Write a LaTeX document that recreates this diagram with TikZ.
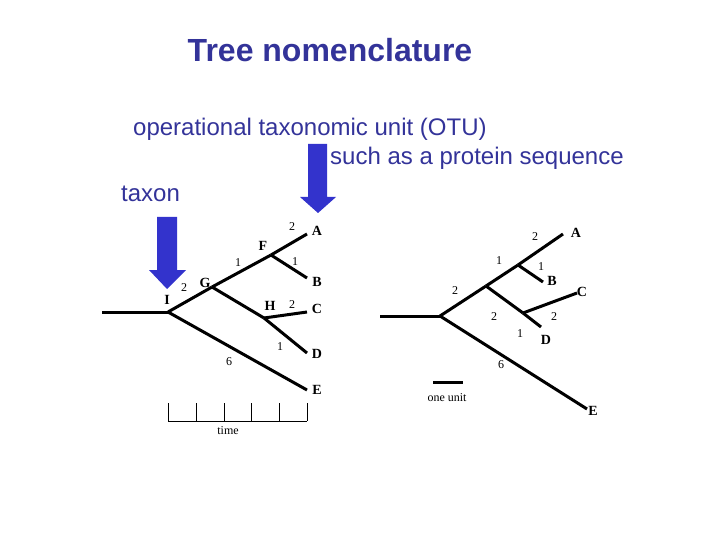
\documentclass[tikz,border=0pt]{standalone}
\usepackage{fontspec}
\setmainfont{Liberation Serif}
\newfontfamily\arialfont{Liberation Sans}
\definecolor{textblue}{RGB}{51,51,153}
\definecolor{arrowblue}{RGB}{51,51,204}
\begin{document}
\begin{tikzpicture}[x=1pt,y=-1pt,
    branch/.style={line width=3pt},
    taxlbl/.style={font=\fontsize{14}{16}\selectfont\bfseries,inner sep=0pt},
    lenlbl/.style={font=\fontsize{12}{14}\selectfont,inner sep=0pt},
    slide/.style={font=\arialfont\fontsize{24}{28}\selectfont,text=textblue,inner sep=0pt}]
        \useasboundingbox (0,0) rectangle (720,540);
        % headings
        \node[slide,font=\arialfont\fontsize{32}{36}\selectfont\bfseries] (title) at (330,50) {Tree nomenclature};
        \node[slide,anchor=west] (otu) at (133,129) {operational taxonomic unit (OTU)};
        \node[slide,anchor=west] (seq) at (330,158) {such as a protein sequence};
        \node[slide,anchor=west] (taxon) at (121,194) {taxon};
        \fill[arrowblue] (157,217) -- (177,217) -- (177,270) -- (186,270) -- (167,289) -- (149,270) -- (157,270) -- cycle;
        \fill[arrowblue] (308,144) -- (327,144) -- (327,197) -- (336,197) -- (318,213) -- (300,197) -- (308,197) -- cycle;
        % left tree
        \coordinate (root) at (102,312);
        \coordinate (I) at (168,312);
        \coordinate (G) at (212,287);
        \coordinate (F) at (271,255);
        \coordinate (H) at (264,318);
        \coordinate (A) at (307,234);
        \coordinate (B) at (307,278);
        \coordinate (C) at (307,312);
        \coordinate (D) at (307,353);
        \coordinate (E) at (307,390);
        \draw[branch] (root) -- (I);
        \draw[branch] (I) -- (G); \draw[branch] (G) -- (F);
        \draw[branch] (F) -- (A); \draw[branch] (F) -- (B);
        \draw[branch] (G) -- (H);
        \draw[branch] (H) -- (C); \draw[branch] (H) -- (D);
        \draw[branch] (I) -- (E);
        \node[taxlbl] (labI) at (167,300) {I};
        \node[taxlbl] (labG) at (205,283) {G};
        \node[taxlbl] (labF) at (263,246) {F};
        \node[taxlbl] (labH) at (270,306) {H};
        \node[taxlbl] (labA) at (317,231) {A};
        \node[taxlbl] (labB) at (317,282) {B};
        \node[taxlbl] (labC) at (317,309) {C};
        \node[taxlbl] (labD) at (317,354) {D};
        \node[taxlbl] (labE) at (317,390) {E};
        \node[lenlbl] (lIG) at (184,288) {2};
        \node[lenlbl] (lGF) at (238,263) {1};
        \node[lenlbl] (lFA) at (292,227) {2};
        \node[lenlbl] (lFB) at (295,262) {1};
        \node[lenlbl] (lHC) at (292,305) {2};
        \node[lenlbl] (lHD) at (280,347) {1};
        \node[lenlbl] (lIE) at (229,362) {6};
        % time axis
        \coordinate (t0) at (168,403); \coordinate (b0) at (168,421);
        \coordinate (t1) at (196,403); \coordinate (b1) at (196,421);
        \coordinate (t2) at (224,403); \coordinate (b2) at (224,421);
        \coordinate (t3) at (251,403); \coordinate (b3) at (251,421);
        \coordinate (t4) at (279,403); \coordinate (b4) at (279,421);
        \coordinate (t5) at (307,403); \coordinate (b5) at (307,421);
        \draw (b0) -- (b5);
        \draw (t0) -- (b0); \draw (t1) -- (b1); \draw (t2) -- (b2);
        \draw (t3) -- (b3); \draw (t4) -- (b4); \draw (t5) -- (b5);
        \node[lenlbl] (time) at (228,431) {time};
        % right tree
        \coordinate (Rroot) at (380,316);
        \coordinate (R0) at (440,316);
        \coordinate (R1) at (486,286);
        \coordinate (R2) at (518,265);
        \coordinate (R3) at (523,313);
        \coordinate (RA) at (563,234);
        \coordinate (RB) at (543,282);
        \coordinate (RC) at (577,293);
        \coordinate (RD) at (541,327);
        \coordinate (RE) at (587,409);
        \draw[branch] (Rroot) -- (R0);
        \draw[branch] (R0) -- (R1); \draw[branch] (R1) -- (R2);
        \draw[branch] (R2) -- (RA); \draw[branch] (R2) -- (RB);
        \draw[branch] (R1) -- (R3);
        \draw[branch] (R3) -- (RC); \draw[branch] (R3) -- (RD);
        \draw[branch] (R0) -- (RE);
        \node[taxlbl] (labRA) at (576,233) {A};
        \node[taxlbl] (labRB) at (552,281) {B};
        \node[taxlbl] (labRC) at (582,292) {C};
        \node[taxlbl] (labRD) at (546,340) {D};
        \node[taxlbl] (labRE) at (593,411) {E};
        \node[lenlbl] (lR01) at (455,291) {2};
        \node[lenlbl] (lR12) at (499,261) {1};
        \node[lenlbl] (lR2A) at (535,237) {2};
        \node[lenlbl] (lR2B) at (541,267) {1};
        \node[lenlbl] (lR13) at (494,317) {2};
        \node[lenlbl] (lR3C) at (554,317) {2};
        \node[lenlbl] (lR3D) at (520,334) {1};
        \node[lenlbl] (lR0E) at (501,365) {6};
        % scale bar
        \coordinate (u0) at (433,382);
        \coordinate (u1) at (463,382);
        \draw[branch] (u0) -- (u1);
        \node[lenlbl] (unit) at (447,398) {one unit};
\end{tikzpicture}
\end{document}
